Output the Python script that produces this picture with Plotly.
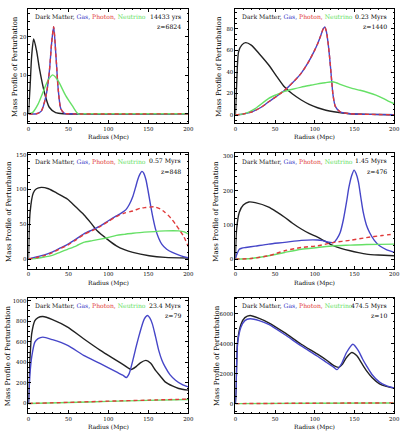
import plotly.graph_objects as go

# ---------------- data ----------------
p1_dm_x = [0, 2, 4, 6.5, 10, 13.9, 20, 26, 34, 45, 200]
p1_dm_y = [0, 7, 15, 19.4, 16.5, 11.5, 5.5, 1.7, 0.3, 0, 0]
p1_gas_x = [0, 10, 16, 22, 26, 29, 31.5, 34.4, 37.2, 40.5, 45, 50, 200]
p1_gas_y = [0, 0, 0.7, 4.7, 10.7, 18.4, 22.6, 15, 6.4, 1.3, 0.1, 0, 0]
p1_pho_x = [0, 10, 16, 22, 26, 29, 31.5, 34.4, 37.2, 40.5, 45, 50, 200]
p1_pho_y = [0, 0, 0.7, 4.7, 10.7, 18.4, 22.6, 15, 6.4, 1.3, 0.1, 0, 0]
p1_neu_x = [0, 5, 12, 18, 24, 30.3, 34, 38.4, 46.6, 54.8, 62, 70, 200]
p1_neu_y = [0, 0.3, 2.5, 5.5, 8.5, 10.1, 9.5, 8.1, 4.7, 2.1, 0, 0, 0]

p2_dm_x = [0, 1.6, 4.1, 8, 13, 20, 30, 42, 52, 62, 72, 83, 93, 103.5, 114, 124, 144.6, 170, 200]
p2_dm_y = [0, 28, 59, 65, 67.3, 65, 57, 46.5, 36, 26, 19.5, 14, 10, 6.8, 4.5, 3.1, 1.2, 0.6, 0.3]
p2_gas_x = [0, 10, 21, 32, 42, 52, 62, 72, 83, 91, 99, 104, 107.6, 110.5, 112.5, 114.5, 116.6,
            118.5, 120, 121.5, 123, 126, 132, 145, 170, 200]
p2_gas_y = [0, 1, 3, 7, 12.4, 17.5, 23, 30, 39, 48, 59, 67, 74, 80, 82, 78, 68,
            55, 43, 30, 18.6, 7.8, 3, 1.2, 0.6, 0.3]
p2_pho_x = [0, 10, 21, 32, 42, 52, 62, 72, 83, 91, 99, 104, 107.6, 110.5, 112.5, 114.5, 116.6,
            118.5, 120, 121.5, 123, 126, 132, 145, 170, 200]
p2_pho_y = [0, 1, 3, 7, 12.4, 17.5, 23, 30, 39, 48, 59, 67, 74, 80, 82, 78, 68,
            55, 43, 30, 18.6, 7.8, 3, 1.2, 0.6, 0.3]
p2_neu_x = [0, 13, 25, 42, 52, 62, 72, 83, 93, 103.5, 113, 122, 127, 132, 140, 148, 157, 167,
            177, 186, 194, 200]
p2_neu_y = [0, 1.5, 6, 15.5, 19, 22, 24, 26, 27.5, 29, 30, 31, 30, 28.5, 26.4, 24.5, 23, 21,
            18.6, 15.5, 12.4, 10.5]

p3_dm_x = [0, 2, 6, 10, 16, 25, 35, 49, 59, 69, 78, 86, 98, 110, 120, 130.6, 151, 171, 200]
p3_dm_y = [0, 67, 95, 101, 103, 101, 95, 86, 75, 64, 52, 40.5, 29, 19, 13.5, 9.5, 4.8, 2.4, 1.5]
p3_gas_x = [0, 10, 20, 28.6, 40, 49, 60, 69, 80, 90, 100, 110, 116, 122, 126, 130.6, 134, 136.7,
            139.5, 142, 144, 147, 150, 153, 156, 159, 163, 167, 173, 180, 190, 198, 200]
p3_gas_y = [0, 3, 6, 9.5, 16, 21, 29, 36, 42, 47.6, 55, 62, 66, 71, 78, 90, 103, 114,
            122, 126, 124, 114, 96, 76, 58, 43, 30, 21, 14, 9.5, 5, 2.4, 2]
p3_pho_x = [0, 10, 20, 28.6, 40, 49, 60, 69, 80, 90, 100, 110, 120, 130.6, 140, 147, 157, 165,
            171, 178, 184, 190, 194, 200]
p3_pho_y = [0, 2, 5, 8.5, 15, 20, 28, 35, 41, 47, 54, 61, 66, 69, 73, 74, 75, 72,
            67, 59, 50, 40, 33, 18]
p3_neu_x = [0, 10, 20, 28.6, 40, 49, 60, 69, 80, 90, 100, 110, 120, 130.6, 151, 171, 188, 195, 200]
p3_neu_y = [0, 1, 3, 4.8, 10, 14, 19, 24, 26.5, 28.6, 31, 34, 35.5, 37, 39, 40.5, 40.5, 39, 36]

p4_dm_x = [0, 1.6, 5, 10, 17, 25, 42, 52, 62, 72, 83, 93, 103.5, 114, 124, 134, 144.6, 155, 165,
           180, 200]
p4_dm_y = [0, 88, 137, 158, 167, 165, 152, 138, 122.5, 105, 88, 75, 64, 51, 39, 31, 24.5, 19,
           14.7, 12, 10]
p4_gas_x = [0, 2, 5, 8, 13, 25, 42, 62, 83, 103.5, 110, 116, 124, 128, 132, 136, 140, 143, 146.6,
            149.5, 152, 155, 158, 161, 165, 169, 175, 181.5, 190, 200]
p4_gas_y = [0, 15, 29, 32, 34, 38, 44, 49, 55, 56, 54, 50, 49, 60, 78, 115, 167, 210, 245,
            260, 250, 225, 180, 137, 100, 78, 55, 39, 28, 20]
p4_pho_x = [0, 20, 42, 62, 83, 103.5, 124, 144.6, 165, 185, 200]
p4_pho_y = [0, 2, 10, 24.5, 34, 39, 49, 55, 63, 69, 73.5]
p4_neu_x = [0, 20, 42, 62, 83, 103.5, 124, 144.6, 165, 200]
p4_neu_y = [0, 2, 10, 19.6, 29, 34, 39, 41, 43, 44]

p5_dm_x = [0, 2, 4, 8, 12, 18, 30, 49, 69, 90, 110, 120, 128.6, 135, 140, 147, 153, 159, 165,
           171, 180, 188, 200]
p5_dm_y = [0, 451, 677, 806, 835, 845, 815, 742, 629, 516, 419, 370, 330, 360, 395, 419, 390,
           322, 265, 210, 170, 145, 129]
p5_gas_x = [0, 2, 4, 8, 12, 18, 30, 49, 69, 90, 110, 118, 122.5, 126, 130.6, 135, 139, 145, 149,
            152, 155, 159, 163, 167, 171, 177, 184, 192, 200]
p5_gas_y = [0, 300, 451, 597, 630, 645, 620, 565, 468, 387, 306, 275, 252, 290, 419, 560, 677,
            823, 855, 830, 774, 650, 516, 420, 355, 280, 226, 185, 161]
p5_pho_x = [0, 50, 100, 150, 200]
p5_pho_y = [0, 10, 22, 32, 42]
p5_neu_x = [0, 50, 100, 150, 200]
p5_neu_y = [0, 9, 20, 30, 38]

p6_dm_x = [0, 0.8, 2.9, 7, 12, 18.5, 30, 42, 62, 83, 103.5, 115, 124, 130, 135, 140, 146.6, 153,
           159, 165, 172, 181.5, 190, 200]
p6_dm_y = [0, 882, 4190, 5295, 5750, 5890, 5700, 5405, 4743, 3971, 3309, 2900, 2537, 2427, 2650,
           3088, 3419, 3199, 2700, 2206, 1750, 1324, 1150, 1037]
p6_gas_x = [0, 0.8, 2.9, 7, 12, 18.5, 30, 42, 62, 83, 103.5, 115, 124, 128, 134, 140, 148, 155,
            160, 165, 172, 181.5, 190, 200]
p6_gas_y = [0, 850, 4050, 5100, 5550, 5670, 5550, 5295, 4620, 3860, 3170, 2750, 2427, 2272, 2700,
            3419, 3971, 3530, 3000, 2537, 1950, 1434, 1200, 1037]
p6_pho_x = [0, 100, 200]
p6_pho_y = [0, 30, 50]
p6_neu_x = [0, 100, 200]
p6_neu_y = [0, 25, 45]

times = ["14433 yrs", "0.23 Myrs", "0.57 Myrs", "1.45 Myrs", "23.4 Myrs", "474.5 Myrs"]
redshifts = ["z=6824", "z=1440", "z=848", "z=476", "z=79", "z=10"]
y_ranges = [[-2.5, 27.2], [-7.8, 98.6], [-14, 152], [-28, 309], [-94, 1029], [-633, 7087]]
y_dticks = [10, 20, 50, 100, 200, 2000]
y_minor = [2, 5, 10, 20, 50, 500]
x_tick_vals = [0, 50, 100, 150, 200]

panels = [
    (p1_dm_x, p1_dm_y, p1_gas_x, p1_gas_y, p1_pho_x, p1_pho_y, p1_neu_x, p1_neu_y),
    (p2_dm_x, p2_dm_y, p2_gas_x, p2_gas_y, p2_pho_x, p2_pho_y, p2_neu_x, p2_neu_y),
    (p3_dm_x, p3_dm_y, p3_gas_x, p3_gas_y, p3_pho_x, p3_pho_y, p3_neu_x, p3_neu_y),
    (p4_dm_x, p4_dm_y, p4_gas_x, p4_gas_y, p4_pho_x, p4_pho_y, p4_neu_x, p4_neu_y),
    (p5_dm_x, p5_dm_y, p5_gas_x, p5_gas_y, p5_pho_x, p5_pho_y, p5_neu_x, p5_neu_y),
    (p6_dm_x, p6_dm_y, p6_gas_x, p6_gas_y, p6_pho_x, p6_pho_y, p6_neu_x, p6_neu_y),
]

# ---------------- styling / layout ----------------
W, H = 410, 434
C_DM, C_GAS, C_PHO, C_NEU = "#222222", "#4646c8", "#e03a3a", "#66e066"
FONT = "DejaVu Serif"

col_px = [(27, 190), (238, 400)]
row_px = [(7, 122), (152, 268), (297, 413)]
ytitle_off = [-14, -16, -20, -20, -20, -18]

fig = go.Figure()
layout = dict(
    width=W, height=H, margin=dict(l=0, r=0, t=0, b=0),
    paper_bgcolor="white", plot_bgcolor="white", showlegend=False,
    font=dict(family=FONT, size=6, color="black"),
)
annotations = []

for i, (dx, dy, gx, gy, px_, py_, nx, ny) in enumerate(panels):
    r, c = divmod(i, 2)
    n = i + 1
    xa = "x" if n == 1 else f"x{n}"
    ya = "y" if n == 1 else f"y{n}"
    x0, x1 = col_px[c]
    t0, t1 = row_px[r]
    pw, ph = x1 - x0, t1 - t0

    line_kw = dict(shape="spline", smoothing=0.7, width=1.4)
    fig.add_trace(go.Scatter(x=dx, y=dy, mode="lines", xaxis=xa, yaxis=ya,
                             line=dict(color=C_DM, **line_kw)))
    fig.add_trace(go.Scatter(x=gx, y=gy, mode="lines", xaxis=xa, yaxis=ya,
                             line=dict(color=C_GAS, **line_kw)))
    fig.add_trace(go.Scatter(x=nx, y=ny, mode="lines", xaxis=xa, yaxis=ya,
                             line=dict(color=C_NEU, **line_kw)))
    fig.add_trace(go.Scatter(x=px_, y=py_, mode="lines", xaxis=xa, yaxis=ya,
                             line=dict(color=C_PHO, dash="4px,3px", **line_kw)))

    axcommon = dict(showgrid=False, zeroline=False, showline=True, linecolor="black",
                    linewidth=1, mirror="allticks", ticks="inside", ticklen=3,
                    tickcolor="black", tickwidth=1,
                    tickfont=dict(family=FONT, size=5.4, color="black"))
    layout["xaxis" if n == 1 else f"xaxis{n}"] = dict(
        domain=[x0 / W, x1 / W], anchor=ya, range=[0, 200],
        tickvals=x_tick_vals, ticktext=[str(v) for v in x_tick_vals],
        minor=dict(ticks="inside", ticklen=1.5, dtick=10, tickcolor="black", showgrid=False),
        **axcommon)
    layout["yaxis" if n == 1 else f"yaxis{n}"] = dict(
        domain=[1 - t1 / H, 1 - t0 / H], anchor=xa, range=y_ranges[i],
        tick0=0, dtick=y_dticks[i],
        minor=dict(ticks="inside", ticklen=1.5, dtick=y_minor[i], tickcolor="black", showgrid=False),
        **axcommon)

    xd = xa + " domain"
    yd = ya + " domain"
    legend_txt = (f"<span style='color:{C_DM}'>Dark Matter,</span> "
                  f"<span style='color:{C_GAS}'>Gas,</span> "
                  f"<span style='color:{C_PHO}'>Photon,</span> "
                  f"<span style='color:{C_NEU}'>Neutrino</span>")
    annotations.append(dict(text=legend_txt, xref=xd, yref=yd, x=5 / pw, y=1 - 8 / ph,
                            xanchor="left", yanchor="middle", showarrow=False,
                            font=dict(family=FONT, size=6.1)))
    annotations.append(dict(text=times[i], xref=xd, yref=yd, x=1 - 5 / pw, y=1 - 8 / ph,
                            xanchor="right", yanchor="middle", showarrow=False,
                            font=dict(family=FONT, size=6.2, color="black")))
    annotations.append(dict(text=redshifts[i], xref=xd, yref=yd, x=1 - 5 / pw, y=1 - 18 / ph,
                            xanchor="right", yanchor="middle", showarrow=False,
                            font=dict(family=FONT, size=6.2, color="black")))
    annotations.append(dict(text="Radius (Mpc)", xref=xd, yref=yd, x=0.5, y=-14 / ph,
                            xanchor="center", yanchor="middle", showarrow=False,
                            font=dict(family=FONT, size=6.0, color="black")))
    annotations.append(dict(text="Mass Profile of Perturbation", xref=xd, yref=yd,
                            x=ytitle_off[i] / pw, y=0.5, textangle=-90,
                            xanchor="center", yanchor="middle", showarrow=False,
                            font=dict(family=FONT, size=7.0, color="black")))

layout["annotations"] = annotations
fig.update_layout(**layout)
fig.write_html("out.html", config={"displayModeBar": False},
               post_script="document.body.style.margin='0';")
